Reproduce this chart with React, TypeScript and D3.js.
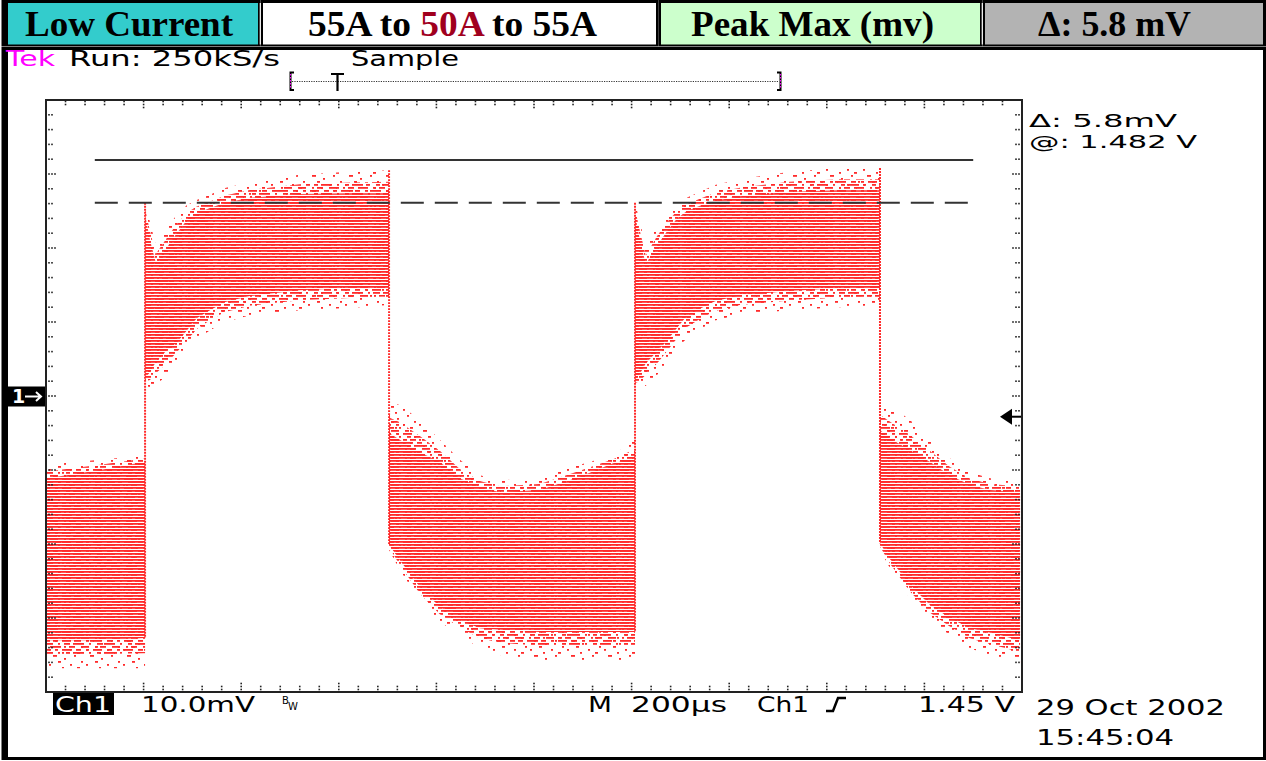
import React from "react";
import * as d3 from "d3";

const W = 1266;
const H = 761;

// Time axis: 200 µs/div, 10 divisions. Voltage: 10 mV/div, 8 divisions, centred on screen.
const timeDomain = [0, 2000];
const voltDomain = [-40, 40];

// Waveform envelope (time in µs, mV about screen centre). Repeated times are the step edges.
const times = [
  2, 111, 203,
  203, 213, 225, 248, 268, 289, 309, 336, 367, 418, 520, 623, 703,
  703, 725, 766, 807, 848, 889, 930, 1012, 1094, 1162, 1207,
  1207, 1217, 1229, 1252, 1272, 1293, 1313, 1340, 1371, 1422, 1524, 1627, 1709,
  1709, 1729, 1770, 1811, 1852, 1893, 1934, 1996,
];
const coreHigh = [
  -11.1, -10.0, -8.9,
  24.5, 21.1, 18.0, 20.1, 22.0, 23.8, 24.7, 25.4, 26.1, 26.8, 27.3, 27.4, 27.4,
  -5.0, -5.9, -7.6, -8.9, -11.1, -12.3, -13.0, -12.7, -10.9, -9.1, -8.4,
  24.5, 21.1, 17.8, 20.3, 22.2, 24.0, 25.0, 25.7, 26.4, 27.0, 27.6, 27.8, 27.8,
  -4.6, -5.7, -7.3, -8.9, -10.7, -12.0, -12.7, -13.0,
];
const coreLow = [
  -33.0, -33.0, -32.7,
  2.4, 3.2, 4.6, 6.2, 7.2, 8.9, 10.5, 11.6, 12.7, 13.5, 14.3, 14.6, 14.6,
  -20.1, -22.2, -25.8, -28.5, -30.3, -31.4, -31.6, -31.9, -31.9, -31.9, -31.9,
  2.2, 3.0, 4.4, 6.0, 7.4, 9.2, 10.8, 11.8, 12.8, 13.6, 14.2, 14.6, 14.6,
  -19.9, -22.0, -25.5, -28.2, -30.0, -31.4, -32.0, -33.0,
];
const outerHigh = [
  -9.3, -8.6, -8.0,
  26.1, 23.5, 20.4, 22.7, 24.5, 25.8, 26.5, 27.2, 28.1, 28.9, 29.9, 30.3, 30.5,
  -0.8, -1.2, -3.2, -5.9, -8.6, -10.7, -11.4, -11.1, -9.3, -8.0, -5.9,
  26.1, 23.5, 20.2, 22.9, 24.7, 26.0, 26.8, 27.6, 28.5, 29.3, 30.3, 30.8, 30.8,
  -0.5, -1.2, -3.2, -5.9, -8.4, -10.3, -11.1, -11.4,
];
const outerLow = [
  -36.8, -36.8, -36.8,
  1.5, 1.1, 1.5, 2.8, 4.6, 6.2, 7.6, 8.9, 10.0, 10.9, 11.6, 11.9, 12.3,
  -20.8, -23.5, -27.6, -30.5, -32.3, -34.1, -35.0, -35.7, -35.7, -35.7, -35.7,
  1.3, 1.0, 1.4, 2.8, 4.6, 6.4, 7.8, 9.0, 10.2, 11.0, 11.6, 12.0, 12.3,
  -20.8, -23.2, -27.3, -30.3, -32.3, -34.1, -35.0, -36.2,
];

// Cursors (mV) and their span (µs)
const cursorSolid = 31.9;
const cursorDashed = 26.1;
const cursorSpan = [100, 1900];
const groundLevel = 0;
const triggerLevel = -2.8;

// Header cells
const headerLabels = ["Low Current", "55A to ", "50A", " to 55A", "Peak Max (mv)", "\u0394: 5.8 mV"];

const RED = "#ff2b2b";

export default function App() {
  const x = d3.scaleLinear().domain(timeDomain).range([46, 1022]);
  const y = d3.scaleLinear().domain(voltDomain).range([692, 100]);
  const idx = d3.range(times.length);

  const coreArea = d3
    .area<number>()
    .x((i) => x(times[i]))
    .y0((i) => y(coreLow[i]))
    .y1((i) => y(coreHigh[i]));
  const outerArea = d3
    .area<number>()
    .x((i) => x(times[i]))
    .y0((i) => y(outerLow[i]))
    .y1((i) => y(outerHigh[i]));
  // denser fringe close to the core: halfway between core and outer envelopes
  const midArea = d3
    .area<number>()
    .x((i) => x(times[i]))
    .y0((i) => y((coreLow[i] + outerLow[i]) / 2))
    .y1((i) => y((coreHigh[i] + outerHigh[i]) / 2));

  const edges = idx
    .filter((i) => i > 0 && times[i] === times[i - 1])
    .map((i) => ({
      t: times[i],
      top: Math.min(y(outerHigh[i - 1]), y(outerHigh[i])),
      bottom: Math.max(y(coreLow[i - 1]), y(coreLow[i])),
    }));

  const xTicks = d3.range(timeDomain[0] + 40, timeDomain[1], 40);
  const yTicks = d3.range(voltDomain[0] + 2, voltDomain[1], 2);
  const dots: { x: number; y: number }[] = [];
  xTicks.forEach((t) => {
    const major = t % 200 === 0;
    const n = major ? 3 : 2;
    for (let k = 0; k < n; k++) {
      dots.push({ x: x(t), y: 101.5 + k * 3 });
      dots.push({ x: x(t), y: 689.5 - k * 3 });
    }
  });
  yTicks.forEach((v) => {
    const major = v % 10 === 0;
    const n = major ? 3 : 2;
    for (let k = 0; k < n; k++) {
      dots.push({ x: 49 + k * 3, y: y(v) });
      dots.push({ x: 1019 - k * 3, y: y(v) });
    }
  });

  const scopeFont = "DejaVu Sans";
  const serif = "Liberation Serif";

  return (
    <svg
      width={W}
      height={H}
      style={{ position: "absolute", left: 0, top: 0, background: "#fff" }}
    >
      <defs>
        <pattern id="stripes" patternUnits="userSpaceOnUse" x="0" y="100" width="10" height="3">
          <rect x="0" y="0" width="10" height="1.8" fill={RED} />
        </pattern>
        <pattern id="fuzz" patternUnits="userSpaceOnUse" x="0" y="100" width="37" height="15">
          <rect x="0" y="0" width="2" height="1.8" fill={RED} />
          <rect x="16" y="0" width="4" height="1.8" fill={RED} />
          <rect x="27" y="3" width="2" height="1.8" fill={RED} />
          <rect x="7" y="6" width="2" height="1.8" fill={RED} />
          <rect x="21" y="6" width="3" height="1.8" fill={RED} />
          <rect x="33" y="9" width="2" height="1.8" fill={RED} />
          <rect x="12" y="9" width="2" height="1.8" fill={RED} />
          <rect x="3" y="12" width="3" height="1.8" fill={RED} />
          <rect x="25" y="12" width="2" height="1.8" fill={RED} />
        </pattern>
        <pattern id="fringe" patternUnits="userSpaceOnUse" x="0" y="100" width="31" height="9">
          <rect x="0" y="0" width="9" height="1.8" fill={RED} />
          <rect x="14" y="0" width="5" height="1.8" fill={RED} />
          <rect x="24" y="0" width="3" height="1.8" fill={RED} />
          <rect x="4" y="3" width="4" height="1.8" fill={RED} />
          <rect x="11" y="3" width="11" height="1.8" fill={RED} />
          <rect x="27" y="3" width="2" height="1.8" fill={RED} />
          <rect x="2" y="6" width="2" height="1.8" fill={RED} />
          <rect x="7" y="6" width="6" height="1.8" fill={RED} />
          <rect x="19" y="6" width="8" height="1.8" fill={RED} />
        </pattern>
        <clipPath id="plotClip">
          <rect x="46" y="100" width="976" height="592" />
        </clipPath>
      </defs>

      {/* Header cells */}
      <rect x={1.5} y={0} width={259} height={46.5} fill="#000" />
      <rect x={8} y={3} width={250} height={41.5} fill="#33cccc" />
      <rect x={260.5} y={0} width={398} height={46.5} fill="#000" />
      <rect x={263} y={3} width={393} height={41.5} fill="#fff" />
      <rect x={658.5} y={0} width={324} height={46.5} fill="#000" />
      <rect x={661} y={3} width={319} height={41.5} fill="#ccffcc" />
      <rect x={982.5} y={0} width={284} height={46.5} fill="#000" />
      <rect x={985} y={3} width={278} height={41.5} fill="#b3b3b3" />
      {/* white separators between cells */}
      <rect x={259.7} y={3} width={1.2} height={41.5} fill="#fff" />
      <rect x={981.7} y={3} width={1.2} height={41.5} fill="#fff" />

      <text x={25} y={36} fontFamily={serif} fontWeight="bold" fontSize={35} textLength={208} lengthAdjust="spacingAndGlyphs">
        {headerLabels[0]}
      </text>
      <text x={308} y={36} fontFamily={serif} fontWeight="bold" fontSize={35} textLength={289} lengthAdjust="spacingAndGlyphs">
        <tspan>{headerLabels[1]}</tspan>
        <tspan fill="#a0001e">{headerLabels[2]}</tspan>
        <tspan>{headerLabels[3]}</tspan>
      </text>
      <text x={691} y={36} fontFamily={serif} fontWeight="bold" fontSize={35} textLength={243} lengthAdjust="spacingAndGlyphs">
        {headerLabels[4]}
      </text>
      <text x={1038} y={36} fontFamily={serif} fontWeight="bold" fontSize={35} textLength={153} lengthAdjust="spacingAndGlyphs">
        {headerLabels[5]}
      </text>

      {/* Scope body frame */}
      <rect x={3} y={48.5} width={1261.5} height={710} fill="none" stroke="#000" strokeWidth={3} />
      <rect x={2} y={47} width={6} height={713} fill="#000" />

      {/* Top status line */}
      <text x={6} y={66} fontFamily={scopeFont} fontSize={21} fill="#ff00ff" textLength={49} lengthAdjust="spacingAndGlyphs">Tek</text>
      <text x={69} y={66} fontFamily={scopeFont} fontSize={21} fill="#000" textLength={211} lengthAdjust="spacingAndGlyphs">Run: 250kS/s</text>
      <text x={351} y={66} fontFamily={scopeFont} fontSize={21} fill="#000" textLength={108} lengthAdjust="spacingAndGlyphs">Sample</text>

      {/* Record/trigger position bracket */}
      <line x1={292} x2={779} y1={81.5} y2={81.5} stroke="#333" strokeWidth={1.2} strokeDasharray="1.2 1.2" />
      <path d="M294,72.5 H290.5 V90 H294" fill="none" stroke="#000" strokeWidth={2} />
      <line x1={290.5} x2={290.5} y1={74} y2={89} stroke="#ff00ff" strokeWidth={1} strokeDasharray="1.5 1.5" />
      <path d="M777,72.5 H780.5 V90 H777" fill="none" stroke="#000" strokeWidth={2} />
      <line x1={780.5} x2={780.5} y1={74} y2={89} stroke="#ff00ff" strokeWidth={1} strokeDasharray="1.5 1.5" />
      <path d="M331,74 H344 M337.5,74 V91" fill="none" stroke="#000" strokeWidth={2.2} />

      {/* Waveform */}
      <g clipPath="url(#plotClip)">
        <path d={outerArea(idx) || ""} fill="url(#fuzz)" />
        <path d={midArea(idx) || ""} fill="url(#fringe)" />
        <path d={coreArea(idx) || ""} fill="url(#stripes)" />
        {edges.map((e, i) => (
          <line
            key={i}
            x1={x(e.t)}
            x2={x(e.t)}
            y1={e.top}
            y2={e.bottom}
            stroke={RED}
            strokeWidth={2}
            strokeDasharray="1.8 1.2"
          />
        ))}
      </g>

      {/* Cursors */}
      <line x1={x(cursorSpan[0])} x2={x(cursorSpan[1])} y1={y(cursorSolid)} y2={y(cursorSolid)} stroke="#333" strokeWidth={2} />
      <line x1={x(cursorSpan[0])} x2={x(cursorSpan[1])} y1={y(cursorDashed)} y2={y(cursorDashed)} stroke="#333" strokeWidth={2} strokeDasharray="23 11" />

      {/* Graticule */}
      <rect x={46} y={100} width={976} height={592} fill="none" stroke="#222" strokeWidth={2} />
      {dots.map((d, i) => (
        <rect key={i} x={d.x - 0.8} y={d.y - 0.8} width={1.6} height={1.6} fill="#222" />
      ))}

      {/* Channel ground marker */}
      <rect x={8} y={y(groundLevel) - 9.5} width={37} height={20} fill="#000" />
      <text x={12} y={y(groundLevel) + 7} fontFamily={scopeFont} fontSize={19} fill="#fff" fontWeight="bold">1</text>
      <path d={`M25,${y(groundLevel) + 0.5} H41 M36,${y(groundLevel) - 4} L41,${y(groundLevel) + 0.5} L36,${y(groundLevel) + 5}`} fill="none" stroke="#fff" strokeWidth={2} />

      {/* Trigger level marker */}
      <path d={`M1000,${y(triggerLevel)} L1012,${y(triggerLevel) - 8} L1012,${y(triggerLevel) + 8} Z`} fill="#000" />
      <line x1={1010} x2={1021} y1={y(triggerLevel)} y2={y(triggerLevel)} stroke="#000" strokeWidth={2} />

      {/* Cursor readout */}
      <text x={1029} y={127} fontFamily={scopeFont} fontSize={18} fill="#000" textLength={148} lengthAdjust="spacingAndGlyphs">{"\u0394: 5.8mV"}</text>
      <text x={1029} y={148} fontFamily={scopeFont} fontSize={18} fill="#000" textLength={168} lengthAdjust="spacingAndGlyphs">@: 1.482 V</text>

      {/* Bottom status line */}
      <rect x={53} y={693} width={61} height={22} fill="#000" />
      <text x={55} y={712} fontFamily={scopeFont} fontSize={21} fill="#fff" textLength={56} lengthAdjust="spacingAndGlyphs">Ch1</text>
      <text x={141} y={712} fontFamily={scopeFont} fontSize={21} fill="#000" textLength={114} lengthAdjust="spacingAndGlyphs">10.0mV</text>
      <text x={282} y={704} fontFamily={scopeFont} fontSize={10} fill="#000">B</text>
      <text x={288} y={710} fontFamily={scopeFont} fontSize={10} fill="#000">W</text>
      <text x={588} y={712} fontFamily={scopeFont} fontSize={21} fill="#000" textLength={24} lengthAdjust="spacingAndGlyphs">M</text>
      <text x={631} y={712} fontFamily={scopeFont} fontSize={21} fill="#000" textLength={96} lengthAdjust="spacingAndGlyphs">{"200\u00b5s"}</text>
      <text x={757} y={712} fontFamily={scopeFont} fontSize={21} fill="#000" textLength={52} lengthAdjust="spacingAndGlyphs">Ch1</text>
      <path d="M826,711 H833 L838,698 H846" fill="none" stroke="#000" strokeWidth={2.5} />
      <text x={918} y={712} fontFamily={scopeFont} fontSize={21} fill="#000" textLength={97} lengthAdjust="spacingAndGlyphs">1.45 V</text>
      <text x={1036} y={715} fontFamily={scopeFont} fontSize={21} fill="#000" textLength={189} lengthAdjust="spacingAndGlyphs">29 Oct 2002</text>
      <text x={1036} y={745} fontFamily={scopeFont} fontSize={21} fill="#000" textLength={138} lengthAdjust="spacingAndGlyphs">15:45:04</text>
    </svg>
  );
}
